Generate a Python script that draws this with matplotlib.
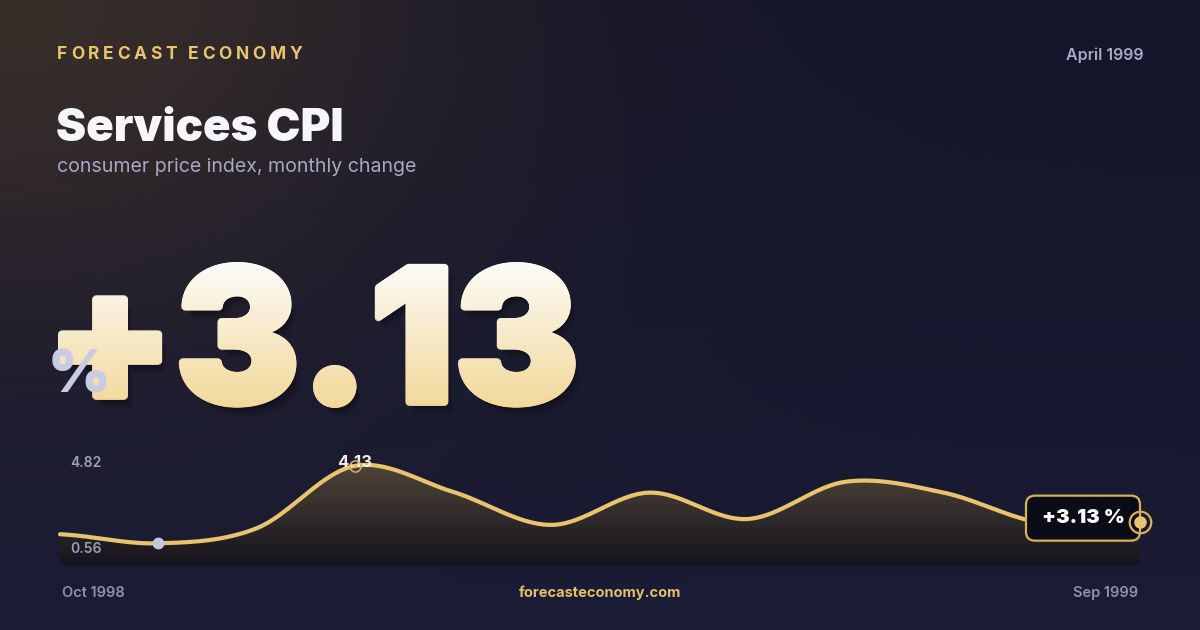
import numpy as np
import matplotlib
matplotlib.use('Agg')
import matplotlib.pyplot as plt
from matplotlib.font_manager import FontProperties
from matplotlib.textpath import TextPath
from matplotlib.patches import PathPatch, Polygon, FancyBboxPatch
from matplotlib.transforms import Affine2D, ScaledTranslation

W, H, DPI = 1200, 630, 100

# ---- data ----
brand = 'FORECAST ECONOMY'
title = 'Services CPI'
subtitle = 'consumer price index, monthly change'
period = 'April 1999'
site = 'forecasteconomy.com'
headline = 3.13
months = ['Oct 1998', 'Nov 1998', 'Dec 1998', 'Jan 1999', 'Feb 1999', 'Mar 1999',
          'Apr 1999', 'May 1999', 'Jun 1999', 'Jul 1999', 'Aug 1999', 'Sep 1999']
values = [0.98, 0.56, 1.25, 4.13, 2.94, 1.41, 2.90, 1.68, 3.40, 2.90, 1.50, 1.56]
axis_top = 4.82
axis_bottom = -0.44

plt.rcParams['font.family'] = ['Inter', 'DejaVu Sans']

GOLD = '#e9c46e'
LAV = '#a8aac6'

def fp(weight, size=None):
    p = FontProperties(family=['Inter', 'DejaVu Sans'], weight=weight)
    if size:
        p.set_size(size)
    return p

fig = plt.figure(figsize=(W / DPI, H / DPI), dpi=DPI)
bg_ax = fig.add_axes([0, 0, 1, 1])
bg_ax.axis('off')

# background: navy with a warm glow in the top-left corner
yy, xx = np.mgrid[0:H, 0:W]
top_c = np.array([20, 21, 41]) / 255
bot_c = np.array([27, 28, 53]) / 255
t = (yy / H)[..., None]
bg = top_c * (1 - t) + bot_c * t
d2 = (xx / 620.0) ** 2 + (yy / 430.0) ** 2
glow = (np.exp(-d2 * 1.7) * 0.85)[..., None]
warm = np.array([62, 50, 42]) / 255
bg = bg * (1 - glow) + warm * glow
bg_ax.imshow(bg, extent=(0, W, H, 0), aspect='auto', interpolation='bilinear', zorder=0)


def fit_text(ax, s, prop, left, top, bottom, **kw):
    ext = TextPath((0, 0), s, size=1, prop=prop).get_extents()
    size = (bottom - top) / ext.height
    x = left - ext.x0 * size
    base = bottom + ext.y0 * size
    p = prop.copy()
    p.set_size(size * 72 / DPI)
    ax.text(x, base, s, fontproperties=p, va='baseline', ha='left', **kw)
    return x, base, size


# brand line with wide tracking
renderer = fig.canvas.get_renderer()
bp = fp('bold', 12.5)
widths = [renderer.get_text_width_height_descent(c, bp, ismath=False)[0] for c in brand]
track = ((302 - 57) - sum(widths)) / (len(brand) - 1)
cx = 57
for c, w in zip(brand, widths):
    bg_ax.text(cx, 59, c, fontproperties=bp, color=GOLD, va='baseline', ha='left')
    cx += w + track

bg_ax.text(1143, 60, period, fontproperties=fp('semibold', 11.5), color=LAV,
           ha='right', va='baseline')

fit_text(bg_ax, title, fp('black'), 57, 105, 141, color='#f7f7fb')
bg_ax.text(57, 172, subtitle, fontproperties=fp('normal', 14.1), color='#a7a8c3',
           ha='left', va='baseline')

# big headline number: heavy glyphs with a vertical white-to-gold gradient
big = '+{:.2f}'.format(headline)
hp = fp('black')
grow = 3.0
bx, bbase, bsize = fit_text(bg_ax, big, hp, 58 + grow, 262 + grow, 408 - grow,
                            color='#f4dda2', zorder=3)
bpath = TextPath((0, 0), big, size=bsize, prop=hp)
for off, a in [((7, 11), 0.10), ((5, 8), 0.12), ((3, 5), 0.15)]:
    tr = Affine2D().scale(1, -1).translate(bx + off[0], bbase + off[1]) + bg_ax.transData
    bg_ax.add_patch(PathPatch(bpath, transform=tr, fc='black', ec='none', alpha=a, zorder=2))
grad = np.linspace(0, 1, 200)[:, None, None]
gtop = np.array([253, 252, 250]) / 255
gbot = np.array([242, 216, 152]) / 255
gimg = np.repeat(gtop * (1 - grad) + gbot * grad, 2, axis=1)
ext = bpath.get_extents()
gext = (bx + ext.x0 - 5, bx + ext.x1 + 5, bbase - ext.y0 + 5, bbase - ext.y1 - 5)
angles = np.linspace(0, 2 * np.pi, 12, endpoint=False)
offsets = [(0.0, 0.0)] + [(grow * np.cos(a), grow * np.sin(a)) for a in angles]
for dx, dy in offsets:
    im = bg_ax.imshow(gimg, extent=gext, aspect='auto', interpolation='bilinear', zorder=4)
    im.set_clip_path(bpath, transform=Affine2D().scale(1, -1).translate(bx + dx, bbase + dy)
                     + bg_ax.transData)

fit_text(bg_ax, '%', fp('black'), 52, 348, 393, color='#c8cbe2', zorder=5)

# footer
bg_ax.text(62, 597, months[0], fontproperties=fp('semibold', 10.5), color='#8f91ae',
           ha='left', va='baseline')
bg_ax.text(1138, 597, months[-1], fontproperties=fp('semibold', 10.5), color='#8f91ae',
           ha='right', va='baseline')
bg_ax.text(600, 597, site, fontproperties=fp('bold', 10.5), color='#e3bf6a',
           ha='center', va='baseline')

bg_ax.set_xlim(0, W)
bg_ax.set_ylim(H, 0)


# ---- sparkline ----
def catmull_rom(x, y, n=40):
    p = np.concatenate([[y[0]], y, [y[-1]]])
    xs, ys = [], []
    tt = np.linspace(0, 1, n, endpoint=False)
    for i in range(len(y) - 1):
        p0, p1, p2, p3 = p[i], p[i + 1], p[i + 2], p[i + 3]
        ys.append(0.5 * (2 * p1 + (p2 - p0) * tt + (2 * p0 - 5 * p1 + 4 * p2 - p3) * tt ** 2
                         + (3 * p1 - p0 - 3 * p2 + p3) * tt ** 3))
        xs.append(x[i] + tt * (x[i + 1] - x[i]))
    xs.append([x[-1]])
    ys.append([y[-1]])
    return np.concatenate(xs), np.concatenate(ys)


ax = fig.add_axes([60 / W, (H - 565) / H, 1080 / W, (565 - 451) / H])
ax.axis('off')
x = np.arange(len(values))
y = np.array(values)
xs, ys = catmull_rom(x, y)

verts = [(xs[0], axis_bottom)] + list(zip(xs, ys)) + [(xs[-1], axis_bottom)]
fill_grad = np.linspace(0, 1, 200)[:, None, None]
ftop = np.array([78, 67, 56]) / 255
fbot = np.array([22, 21, 29]) / 255
fimg = np.repeat(ftop * (1 - fill_grad) + fbot * fill_grad, 2, axis=1)
fim = ax.imshow(fimg, extent=(x[0], x[-1], axis_bottom, ys.max()), aspect='auto',
                origin='upper', interpolation='bilinear', zorder=1)
fim.set_clip_path(Polygon(verts, closed=True, transform=ax.transData))

ax.plot(xs, ys, color=GOLD, lw=3.0, solid_capstyle='round', zorder=3, clip_on=False)

i_min = int(np.argmin(y))
i_max = int(np.argmax(y))
ax.plot(i_min, y[i_min], 'o', ms=8.5, color='#c4c7df', mec='none', zorder=4, clip_on=False)
ax.annotate('{:.2f}'.format(y[i_max]), xy=(i_max, y[i_max]), xytext=(0, -1),
            textcoords='offset pixels', ha='center', va='baseline',
            fontproperties=fp('bold', 12), color='#f1ede4', zorder=5, annotation_clip=False)
ax.plot(i_max, y[i_max], 'o', ms=8, mfc='none', mec='#d9b45a', mew=1.1, zorder=6, clip_on=False)

ax.annotate('{:.2f}'.format(axis_top), xy=(0, axis_top), xytext=(10, -5),
            textcoords='offset pixels', ha='left', va='top',
            fontproperties=fp('semibold', 10), color='#9c9eba', annotation_clip=False)
ax.annotate('{:.2f}'.format(y[i_min]), xy=(0, y[i_min]), xytext=(10, 1),
            textcoords='offset pixels', ha='left', va='top',
            fontproperties=fp('semibold', 10), color='#9c9eba', zorder=5, annotation_clip=False)

# end-value callout
anchor = ScaledTranslation(x[-1], y[-1], ax.transData)
box = FancyBboxPatch((-114, -19), 114, 45, boxstyle='round,pad=0,rounding_size=9',
                     fc='#0b0c18', ec='#d5b15c', lw=1.6, transform=Affine2D() + anchor,
                     zorder=6, clip_on=False)
ax.add_patch(box)
ax.annotate('+{:.2f} %'.format(headline), xy=(x[-1], y[-1]), xytext=(-57, 4),
            textcoords='offset pixels', ha='center', va='center',
            fontproperties=fp('black', 14.5), color='white', zorder=7, annotation_clip=False)
ax.plot(x[-1], y[-1], 'o', ms=15.5, mfc='none', mec='#d5b15c', mew=1.6, zorder=8, clip_on=False)
ax.plot(x[-1], y[-1], 'o', ms=9, color=GOLD, mec='none', zorder=9, clip_on=False)

ax.set_xlim(x[0], x[-1])
ax.set_ylim(axis_bottom, axis_top)

fig.savefig('out.png', dpi=DPI)
